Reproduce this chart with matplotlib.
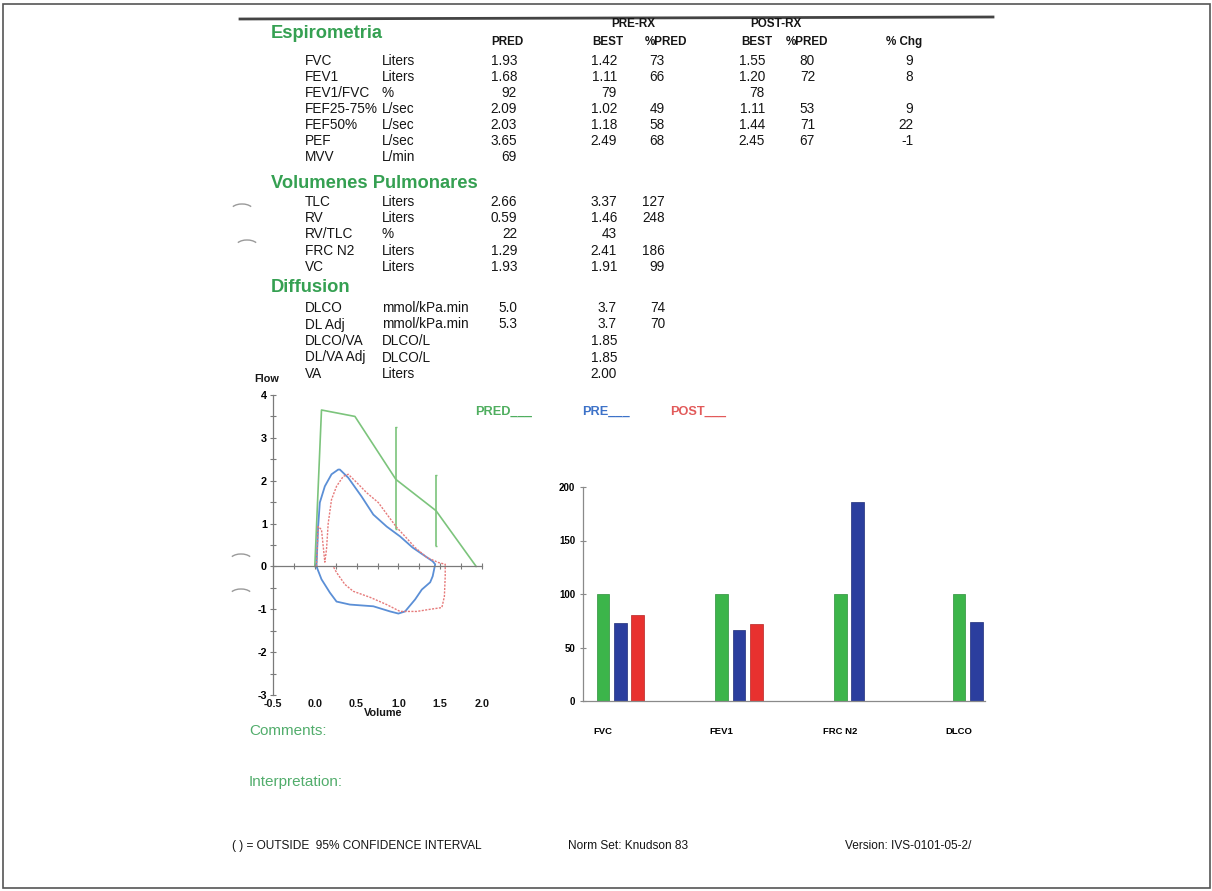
import numpy as np
import matplotlib
matplotlib.use('Agg')
import matplotlib.pyplot as plt
from matplotlib.patches import Arc, Rectangle
from matplotlib.ticker import MultipleLocator

W, H = 1212, 891

# ---- Espirometria ----
spiro_names = ['FVC', 'FEV1', 'FEV1/FVC', 'FEF25-75%', 'FEF50%', 'PEF', 'MVV']
spiro_units = ['Liters', 'Liters', '%', 'L/sec', 'L/sec', 'L/sec', 'L/min']
spiro_pred = ['1.93', '1.68', '92', '2.09', '2.03', '3.65', '69']
spiro_pre_best = ['1.42', '1.11', '79', '1.02', '1.18', '2.49', '']
spiro_pre_pct = ['73', '66', '', '49', '58', '68', '']
spiro_post_best = ['1.55', '1.20', '78', '1.11', '1.44', '2.45', '']
spiro_post_pct = ['80', '72', '', '53', '71', '67', '']
spiro_chg = ['9', '8', '', '9', '22', '-1', '']

# ---- Volumenes Pulmonares ----
vol_names = ['TLC', 'RV', 'RV/TLC', 'FRC N2', 'VC']
vol_units = ['Liters', 'Liters', '%', 'Liters', 'Liters']
vol_pred = ['2.66', '0.59', '22', '1.29', '1.93']
vol_best = ['3.37', '1.46', '43', '2.41', '1.91']
vol_pct = ['127', '248', '', '186', '99']

# ---- Diffusion ----
dif_names = ['DLCO', 'DL Adj', 'DLCO/VA', 'DL/VA Adj', 'VA']
dif_units = ['mmol/kPa.min', 'mmol/kPa.min', 'DLCO/L', 'DLCO/L', 'Liters']
dif_pred = ['5.0', '5.3', '', '', '']
dif_best = ['3.7', '3.7', '1.85', '1.85', '2.00']
dif_pct = ['74', '70', '', '', '']

# ---- flow-volume loops (volume in L, flow in L/s) ----
pred_vol = [0.0, 0.08, 0.48, 0.97, 1.45, 1.93]
pred_flow = [0.0, 3.65, 3.50, 2.03, 1.30, 0.0]
ci_vol = [0.97, 1.45]
ci_low = [0.88, 0.47]
ci_high = [3.25, 2.14]

pre_vol = [0.02, 0.04, 0.06, 0.12, 0.20, 0.28, 0.30, 0.40, 0.56, 0.70, 0.86,
           1.02, 1.17, 1.29, 1.41, 1.44, 1.41, 1.38, 1.28, 1.20, 1.08, 1.00,
           0.90, 0.70, 0.42, 0.26, 0.18, 0.08, 0.02]
pre_flow = [0.0, 0.93, 1.49, 1.87, 2.15, 2.26, 2.26, 2.07, 1.63, 1.21, 0.93,
            0.70, 0.44, 0.28, 0.12, 0.05, -0.23, -0.37, -0.54, -0.77, -1.05,
            -1.10, -1.05, -0.93, -0.89, -0.82, -0.61, -0.30, 0.0]

post_vol = [0.02, 0.04, 0.08, 0.12, 0.14, 0.16, 0.20, 0.26, 0.34, 0.40, 0.50,
            0.62, 0.76, 0.88, 0.98, 1.08, 1.20, 1.34, 1.48, 1.56, 1.56, 1.55,
            1.52, 1.38, 1.22, 1.02, 0.86, 0.66, 0.46, 0.36, 0.26, 0.22]
post_flow = [0.0, 0.93, 0.86, 0.10, 0.40, 1.00, 1.56, 1.87, 2.10, 2.15, 1.96,
             1.72, 1.49, 1.17, 0.91, 0.70, 0.44, 0.21, 0.09, 0.05, -0.23,
             -0.70, -0.96, -1.00, -1.05, -1.05, -0.89, -0.72, -0.58, -0.42,
             -0.14, 0.0]

# ---- % predicted bars ----
bar_cats = ['FVC', 'FEV1', 'FRC N2', 'DLCO']
bar_pred = [100, 100, 100, 100]
bar_pre = [73, 66, 186, 74]
bar_post = [80, 72, np.nan, np.nan]

plt.rcParams['font.family'] = ['Liberation Sans', 'DejaVu Sans']
plt.rcParams['axes.unicode_minus'] = False

INK = '#151515'
HEAD_GREEN = '#35a052'
SOFT_GREEN = '#52ad6c'
LINE_GREEN = '#7cc47c'
LINE_BLUE = '#5b8fd6'
LINE_RED = '#e67a7a'

fig = plt.figure(figsize=(W / 100, H / 100), dpi=100)

# page layer in pixel coordinates (y grows downward)
page = fig.add_axes([0, 0, 1, 1], zorder=0)
page.set_xlim(0, W)
page.set_ylim(H, 0)
page.axis('off')


def px_axes(left, top, right, bottom):
    ax = fig.add_axes([left / W, 1 - bottom / H, (right - left) / W, (bottom - top) / H], zorder=2)
    ax.patch.set_alpha(0)
    return ax


# frame and header rule
page.add_patch(Rectangle((2.5, 4), W - 5, H - 7, fill=False, ec='#555555', lw=1.2))
page.plot([240, 993], [19, 17], color='#444444', lw=2.0)

# punch-hole shadows on the left margin
for cx, cy in [(242, 210), (247, 246), (241, 560), (241, 595)]:
    page.add_patch(Arc((cx, cy), 22, 12, theta1=200, theta2=340, color='#9a9a9a', lw=1.0))

# column positions
X_NAME, X_UNIT = 305, 382
X_PRED, X_BEST, X_PCT = 517, 617, 665
X_PBEST, X_PPCT, X_CHG = 765, 815, 913
FS = 9.8

hdr = dict(fontsize=8.4, fontweight='bold', color=INK, va='center')
page.text(633, 24, 'PRE-RX', ha='center', **hdr)
page.text(776, 24, 'POST-RX', ha='center', **hdr)
page.text(523, 42, 'PRED', ha='right', **hdr)
page.text(623, 42, 'BEST', ha='right', **hdr)
page.text(687, 42, '%PRED', ha='right', **hdr)
page.text(772, 42, 'BEST', ha='right', **hdr)
page.text(828, 42, '%PRED', ha='right', **hdr)
page.text(922, 42, '% Chg', ha='right', **hdr)


def section(title, ty, y0, step, names, units, columns):
    page.text(271, ty, title, fontsize=13.2, fontweight='bold', color=HEAD_GREEN, va='center')
    for i, (n, u) in enumerate(zip(names, units)):
        y = y0 + i * step
        page.text(X_NAME, y, n, fontsize=FS, color=INK, va='center')
        page.text(X_UNIT, y, u, fontsize=FS, color=INK, va='center')
        for x, vals in columns:
            if vals[i]:
                page.text(x, y, vals[i], fontsize=FS, color=INK, va='center', ha='right')


section('Espirometria', 34, 61, 16, spiro_names, spiro_units,
        [(X_PRED, spiro_pred), (X_BEST, spiro_pre_best), (X_PCT, spiro_pre_pct),
         (X_PBEST, spiro_post_best), (X_PPCT, spiro_post_pct), (X_CHG, spiro_chg)])
section('Volumenes Pulmonares', 183, 202, 16.2, vol_names, vol_units,
        [(X_PRED, vol_pred), (X_BEST, vol_best), (X_PCT, vol_pct)])
section('Diffusion', 287, 308, 16.5, dif_names, dif_units,
        [(X_PRED, dif_pred), (X_BEST, dif_best), (X_PCT, dif_pct)])

# legend for the loops
leg = dict(fontsize=9.2, fontweight='bold', va='center')
page.text(475, 412, 'PRED___', color='#4fae5f', **leg)
page.text(582, 412, 'PRE___', color='#3d72c8', **leg)
page.text(670, 412, 'POST___', color='#e25a5a', **leg)

# ---- flow-volume plot ----
ax = px_axes(273, 395, 482, 695)
ax.set_xlim(-0.5, 2.0)
ax.set_ylim(-3, 4)
for s in ['top', 'right']:
    ax.spines[s].set_visible(False)
ax.spines['bottom'].set_position(('data', 0))
for s in ['left', 'bottom']:
    ax.spines[s].set_color('#7a7a7a')
    ax.spines[s].set_linewidth(0.9)
ax.xaxis.set_major_locator(MultipleLocator(0.25))
ax.yaxis.set_major_locator(MultipleLocator(1))
ax.yaxis.set_minor_locator(MultipleLocator(0.5))
ax.tick_params(axis='x', direction='inout', length=5, width=0.8, color='#7a7a7a', labelbottom=False)
ax.tick_params(axis='y', which='both', direction='inout', length=5, width=0.8, color='#7a7a7a',
               labelsize=7.8, pad=2)
for lab in ax.get_yticklabels():
    lab.set_fontweight('bold')
for v in [-0.5, 0.0, 0.5, 1.0, 1.5, 2.0]:
    ax.annotate(f'{v:.1f}', (v, -3), xytext=(0, -3), textcoords='offset points',
                ha='center', va='top', fontsize=7.8, fontweight='bold', color=INK,
                annotation_clip=False)

ax.plot(pred_vol, pred_flow, color=LINE_GREEN, lw=1.2)
ax.vlines(ci_vol, ci_low, ci_high, color=LINE_GREEN, lw=1.2)
ax.hlines(ci_low + ci_high, [v - 0.015 for v in ci_vol * 2], [v + 0.015 for v in ci_vol * 2],
          color=LINE_GREEN, lw=1.0)
ax.plot(pre_vol, pre_flow, color=LINE_BLUE, lw=1.3)
ax.plot(post_vol, post_flow, color=LINE_RED, lw=1.0, ls=(0, (1.5, 1)))

page.text(254, 379, 'Flow', fontsize=7.8, fontweight='bold', color=INK, va='center')
page.text(383, 713, 'Volume', fontsize=7.8, fontweight='bold', color=INK, va='center', ha='center')

# ---- % predicted bar chart ----
bx = px_axes(583, 487, 985, 701)
pos = np.arange(len(bar_cats))
bw = 0.107
bx.bar(pos, bar_pred, bw, color='#3cb54a', edgecolor='#2c8f3a', lw=0.5)
bx.bar(pos + 0.146, bar_pre, bw, color='#2b3e9e', edgecolor='#1f2d78', lw=0.5)
bx.bar(pos + 0.292, bar_post, bw, color='#e8312f', edgecolor='#b82422', lw=0.5)
bx.set_xlim(-0.168, 3.218)
bx.set_ylim(0, 200)
bx.set_yticks([0, 50, 100, 150, 200])
bx.set_xticks(pos)
bx.set_xticklabels(bar_cats)
for s in ['top', 'right']:
    bx.spines[s].set_visible(False)
for s in ['left', 'bottom']:
    bx.spines[s].set_color('#8a8a8a')
    bx.spines[s].set_linewidth(0.9)
bx.tick_params(axis='y', direction='inout', length=5, color='#8a8a8a', labelsize=7, pad=3)
bx.tick_params(axis='x', length=0, labelsize=6.8, pad=19)
for lab in bx.get_xticklabels() + bx.get_yticklabels():
    lab.set_fontweight('bold')

# ---- notes and footer ----
page.text(249, 731, 'Comments:', fontsize=11, color=SOFT_GREEN, va='center')
page.text(249, 782, 'Interpretation:', fontsize=11, color=SOFT_GREEN, va='center')

foot = dict(fontsize=8.6, color=INK, va='center', family=['Liberation Sans Narrow', 'Liberation Sans'])
page.text(232, 846, '( ) = OUTSIDE  95% CONFIDENCE INTERVAL', **foot)
page.text(568, 846, 'Norm Set: Knudson 83', **foot)
page.text(845, 846, 'Version: IVS-0101-05-2/', **foot)

fig.savefig('out.png', dpi=100)
